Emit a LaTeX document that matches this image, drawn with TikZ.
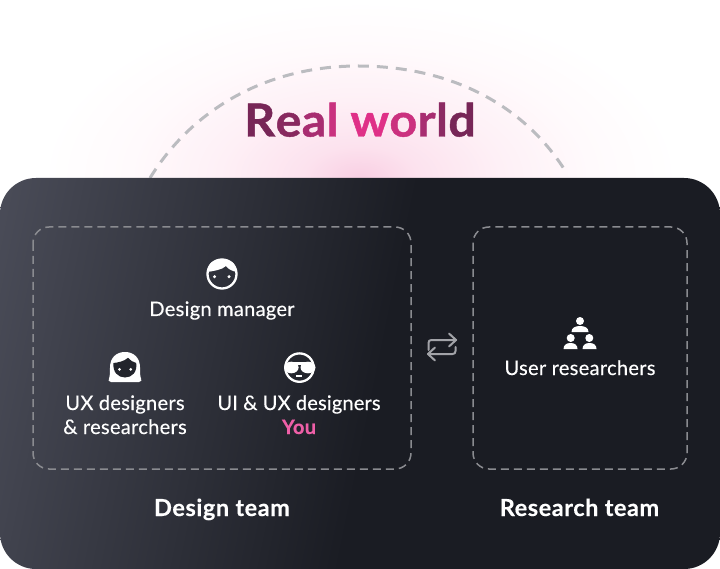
\documentclass[tikz,border=0pt]{standalone}
\usepackage{fontspec}
\setmainfont{Lato}
\usetikzlibrary{calc}
\definecolor{rA}{HTML}{772657}\definecolor{rB}{HTML}{88295F}\definecolor{rC}{HTML}{A82D71}\definecolor{rD}{HTML}{C9317F}
\definecolor{rE}{HTML}{DF3087}\definecolor{rF}{HTML}{CB317F}\definecolor{rG}{HTML}{A82D71}\definecolor{rH}{HTML}{8C2A63}\definecolor{rI}{HTML}{772657}
\definecolor{pinkyou}{HTML}{EE5FA7}
\definecolor{dashgray}{HTML}{BBBCC0}
\definecolor{boxgray}{HTML}{8A8B90}
\definecolor{arrowgray}{HTML}{A2A3A8}
\definecolor{facedark}{HTML}{22242C}
\definecolor{cA}{HTML}{4A4C58}\definecolor{cD}{HTML}{1A1C23}
\definecolor{gA}{HTML}{F9CFE3}\definecolor{gB}{HTML}{FCE2EE}\definecolor{gC}{HTML}{FEF0F6}\definecolor{gD}{HTML}{FFFAFC}\definecolor{gE}{HTML}{FFFFFF}
\pgfdeclarehorizontalshading{cardshade}{100bp}{
  color(0bp)=(cA);
  color(33.35bp)=(cA);
  color(53.9bp)=(cD);
  color(100bp)=(cD)}
\pgfdeclareradialshading{glowshade}{\pgfpoint{0bp}{0bp}}{
  color(0bp)=(gA);
  color(4.5bp)=(gB);
  color(11bp)=(gC);
  color(18bp)=(gD);
  color(25bp)=(gE);
  color(50bp)=(gE)}
\tikzset{
  lbl/.style={anchor=base,text=white,font=\fontsize{20}{22}\selectfont\addfontfeatures{LetterSpace=1.6,FakeBold=0.35},inner sep=0pt},
  teamlbl/.style={anchor=base,text=white,font=\fontsize{23.5}{26}\selectfont\bfseries\addfontfeatures{LetterSpace=2.4,FakeBold=0.3},inner sep=0pt},
  youlbl/.style={anchor=base,inner sep=0pt,text=pinkyou,font=\fontsize{20}{22}\selectfont\bfseries\addfontfeatures{LetterSpace=1.6,FakeBold=0.3}},
  teambox/.style={draw=boxgray,line width=1.5pt,rounded corners=16pt,dash pattern=on 8pt off 5pt},
  iconline/.style={draw=white,line width=2.3pt},
  swaparrow/.style={draw=arrowgray,line width=2pt,line cap=round,line join=round}
}
\begin{document}
\begin{tikzpicture}[x=1pt,y=-1pt]
\useasboundingbox (0,0) rectangle (720,569);
\fill[white] (0,0) rectangle (720,569);
% glow
\begin{scope}
\clip (0,0) rectangle (720,200);
\shade[shading=glowshade] (360,178) ellipse [x radius=320pt,y radius=178pt];
\end{scope}
% dashed arc
\draw[dashgray,line width=3pt,dash pattern=on 11pt off 8pt]
  (150,178) .. controls (195,105) and (272,66) .. (358,66) .. controls (444,66) and (521,100) .. (566,172);
% title
\node[anchor=base,inner sep=0pt,font=\fontsize{45.5}{50}\selectfont\bfseries\addfontfeatures{FakeStretch=1.06,FakeBold=1.0}] (title) at (360,136.5)
  {\textcolor{rA}{R}\kern.4pt\textcolor{rB}{e}\kern.4pt\textcolor{rC}{a}\kern.4pt\textcolor{rD}{l} \textcolor{rE}{w}\kern.4pt\textcolor{rF}{o}\kern.4pt\textcolor{rG}{r}\kern.4pt\textcolor{rH}{l}\kern.4pt\textcolor{rI}{d}};
% card
\begin{scope}
\clip[rounded corners=36pt] (0,178) rectangle (720,569);
\shade[shading=cardshade,shading angle=-11.6] (-200,-127) rectangle (800,873);
\end{scope}
\draw[teambox] (33,227) rectangle (411,469);
\draw[teambox] (473,227) rectangle (687,469);
% labels
\node[lbl] (dm) at (222,316) {Design manager};
\node[lbl] (ux1) at (125,410) {UX designers};
\node[lbl] (ux2) at (125,434) {\& researchers};
\node[lbl,font=\fontsize{20}{22}\selectfont\addfontfeatures{LetterSpace=0.9,FakeBold=0.35}] (ui1) at (299,410) {UI \& UX designers};
\node[youlbl] (you) at (299,434) {You};
\node[lbl] (ur) at (580,375) {User researchers};
\node[teamlbl] (dt) at (222,516) {Design team};
\node[teamlbl] (rt) at (579.5,516) {Research team};
% manager icon
\draw[iconline] (222,274) circle (14.5);
\fill[white] (207.5,272) .. controls (208,262) and (214,259.5) .. (222,259.5) .. controls (230,259.5) and (236,262) .. (236.5,272)
  .. controls (232,271) and (228,269) .. (226,266) .. controls (222,270) and (213,271) .. (207.5,272) -- cycle;
\fill[white] (214.5,276.7) circle (1.7) (229,276.7) circle (1.7);
% designer icon (woman)
\fill[white] (111,382) .. controls (108.5,382) and (108,380) .. (109,378.5) .. controls (110,376) and (110,372) .. (110,367.5)
  .. controls (110,358) and (116,352) .. (125,352) .. controls (134,352) and (140,358) .. (140,367.5)
  .. controls (140,372) and (140,376) .. (141,378.5) .. controls (142,380) and (141.5,382) .. (139,382) -- cycle;
\fill[facedark] (113.5,363) .. controls (118,362.5) and (124,361.5) .. (128,357.8)
  .. controls (130,360.5) and (133,362) .. (136.2,363) .. controls (137.5,372) and (132,377.5) .. (125,377.5)
  .. controls (118,377.5) and (112.5,372) .. (113.5,363) -- cycle;
\fill[white] (119.5,369.3) circle (1.5) (130.7,369.3) circle (1.5);
% sunglasses icon
\draw[iconline] (299.5,367.6) circle (14.2);
\fill[white] (291.3,367.5) ellipse [x radius=7.3pt,y radius=5.8pt];
\fill[white] (308,367.5) ellipse [x radius=7.5pt,y radius=5.8pt];
\fill[white] (291,361.9) rectangle (308,365);
\fill[white] (296,375) rectangle (302,376.6);
% arrows
\draw[swaparrow] (428.5,350) -- (428.5,343) .. controls (428.5,341) and (429.5,340) .. (431.5,340) -- (456,340);
\draw[swaparrow] (449,333.5) -- (456,340) -- (449,346.5);
\draw[swaparrow] (455.5,347) -- (455.5,351) .. controls (455.5,353) and (454.5,354) .. (452.5,354) -- (428,354);
\draw[swaparrow] (435,347.5) -- (428,354) -- (435,360.5);
% team icon
\fill[white] (580,321) circle (4);
\fill[white] (571.5,332) .. controls (571.5,328) and (575,326) .. (580,326) .. controls (585,326) and (588.5,328) .. (588.5,332) -- cycle;
\fill[white] (570.7,338) circle (4);
\fill[white] (563.5,349) .. controls (563.5,345) and (566.5,343) .. (570.5,343) .. controls (574.5,343) and (577.5,345) .. (577.5,349) -- cycle;
\fill[white] (589.3,338) circle (4);
\fill[white] (582.5,349) .. controls (582.5,345) and (585.5,343) .. (589.5,343) .. controls (593.5,343) and (596.5,345) .. (596.5,349) -- cycle;
\end{tikzpicture}
\end{document}
